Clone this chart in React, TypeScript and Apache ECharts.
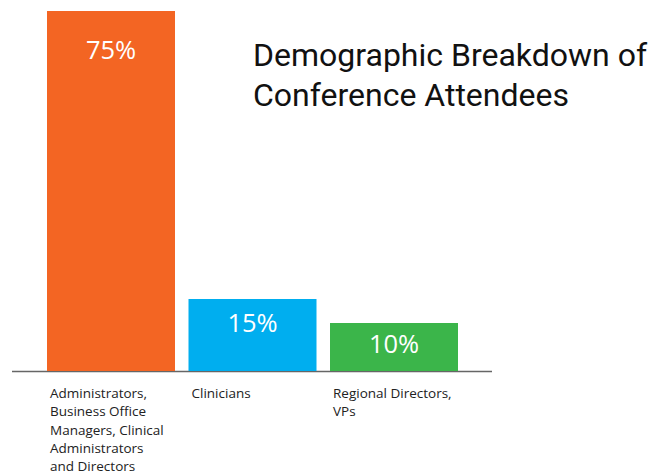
import React, { useEffect, useRef } from "react";
import * as echarts from "echarts";

const categories = [
  "Administrators,\nBusiness Office\nManagers, Clinical\nAdministrators\nand Directors",
  "Clinicians",
  "Regional Directors,\nVPs",
];
const values = [75, 15, 10];
const barColors = ["#F36523", "#00AEEF", "#3BB54A"];
const labelDistances = [25, 10, 7];
const titleText = "Demographic Breakdown of\nConference Attendees";

export default function App() {
  const ref = useRef<HTMLDivElement>(null);
  useEffect(() => {
    if (!ref.current) return;
    const chart = echarts.init(ref.current, undefined, { renderer: "svg" });
    chart.setOption({
      animation: false,
      backgroundColor: "#ffffff",
      grid: { left: 40.25, right: 197.25, top: 11, bottom: 103 },
      title: {
        text: titleText,
        left: 253,
        top: 35,
        padding: 0,
        textStyle: {
          fontFamily: "Roboto",
          fontWeight: "normal",
          fontSize: 32,
          lineHeight: 40,
          color: "#111111",
        },
      },
      xAxis: {
        type: "category",
        data: categories,
        axisLine: { show: false },
        axisTick: { show: false },
        axisLabel: {
          interval: 0,
          margin: 13,
          width: 128,
          align: "center",
          formatter: (v: string) =>
            v
              .split("\n")
              .map((s) => "{l|" + s + "}")
              .join("\n"),
          rich: {
            l: {
              align: "left",
              padding: [0, 0, 0, 3],
              fontFamily: "Open Sans",
              fontSize: 13.5,
              lineHeight: 18.3,
              color: "#222222",
            },
          },
        },
      },
      yAxis: {
        type: "value",
        min: 0,
        max: 75,
        show: false,
        splitLine: { show: false },
      },
      series: [
        {
          type: "bar",
          barWidth: 128,
          data: values.map((v, i) => ({
            value: v,
            itemStyle: { color: barColors[i] },
            label: { distance: labelDistances[i] },
          })),
          label: {
            show: true,
            position: "insideTop",
            formatter: "{c}%",
            color: "#ffffff",
            fontFamily: "Open Sans",
            fontSize: 25.5,
          },
        },
      ],
      graphic: [
        {
          type: "line",
          shape: { x1: 12, y1: 371.5, x2: 492, y2: 371.5 },
          style: { stroke: "#666666", lineWidth: 1.5 },
          silent: true,
        },
      ],
    });
    return () => chart.dispose();
  }, []);
  return <div ref={ref} style={{ width: 662, height: 474, position: "absolute", left: 0, top: 0 }} />;
}
